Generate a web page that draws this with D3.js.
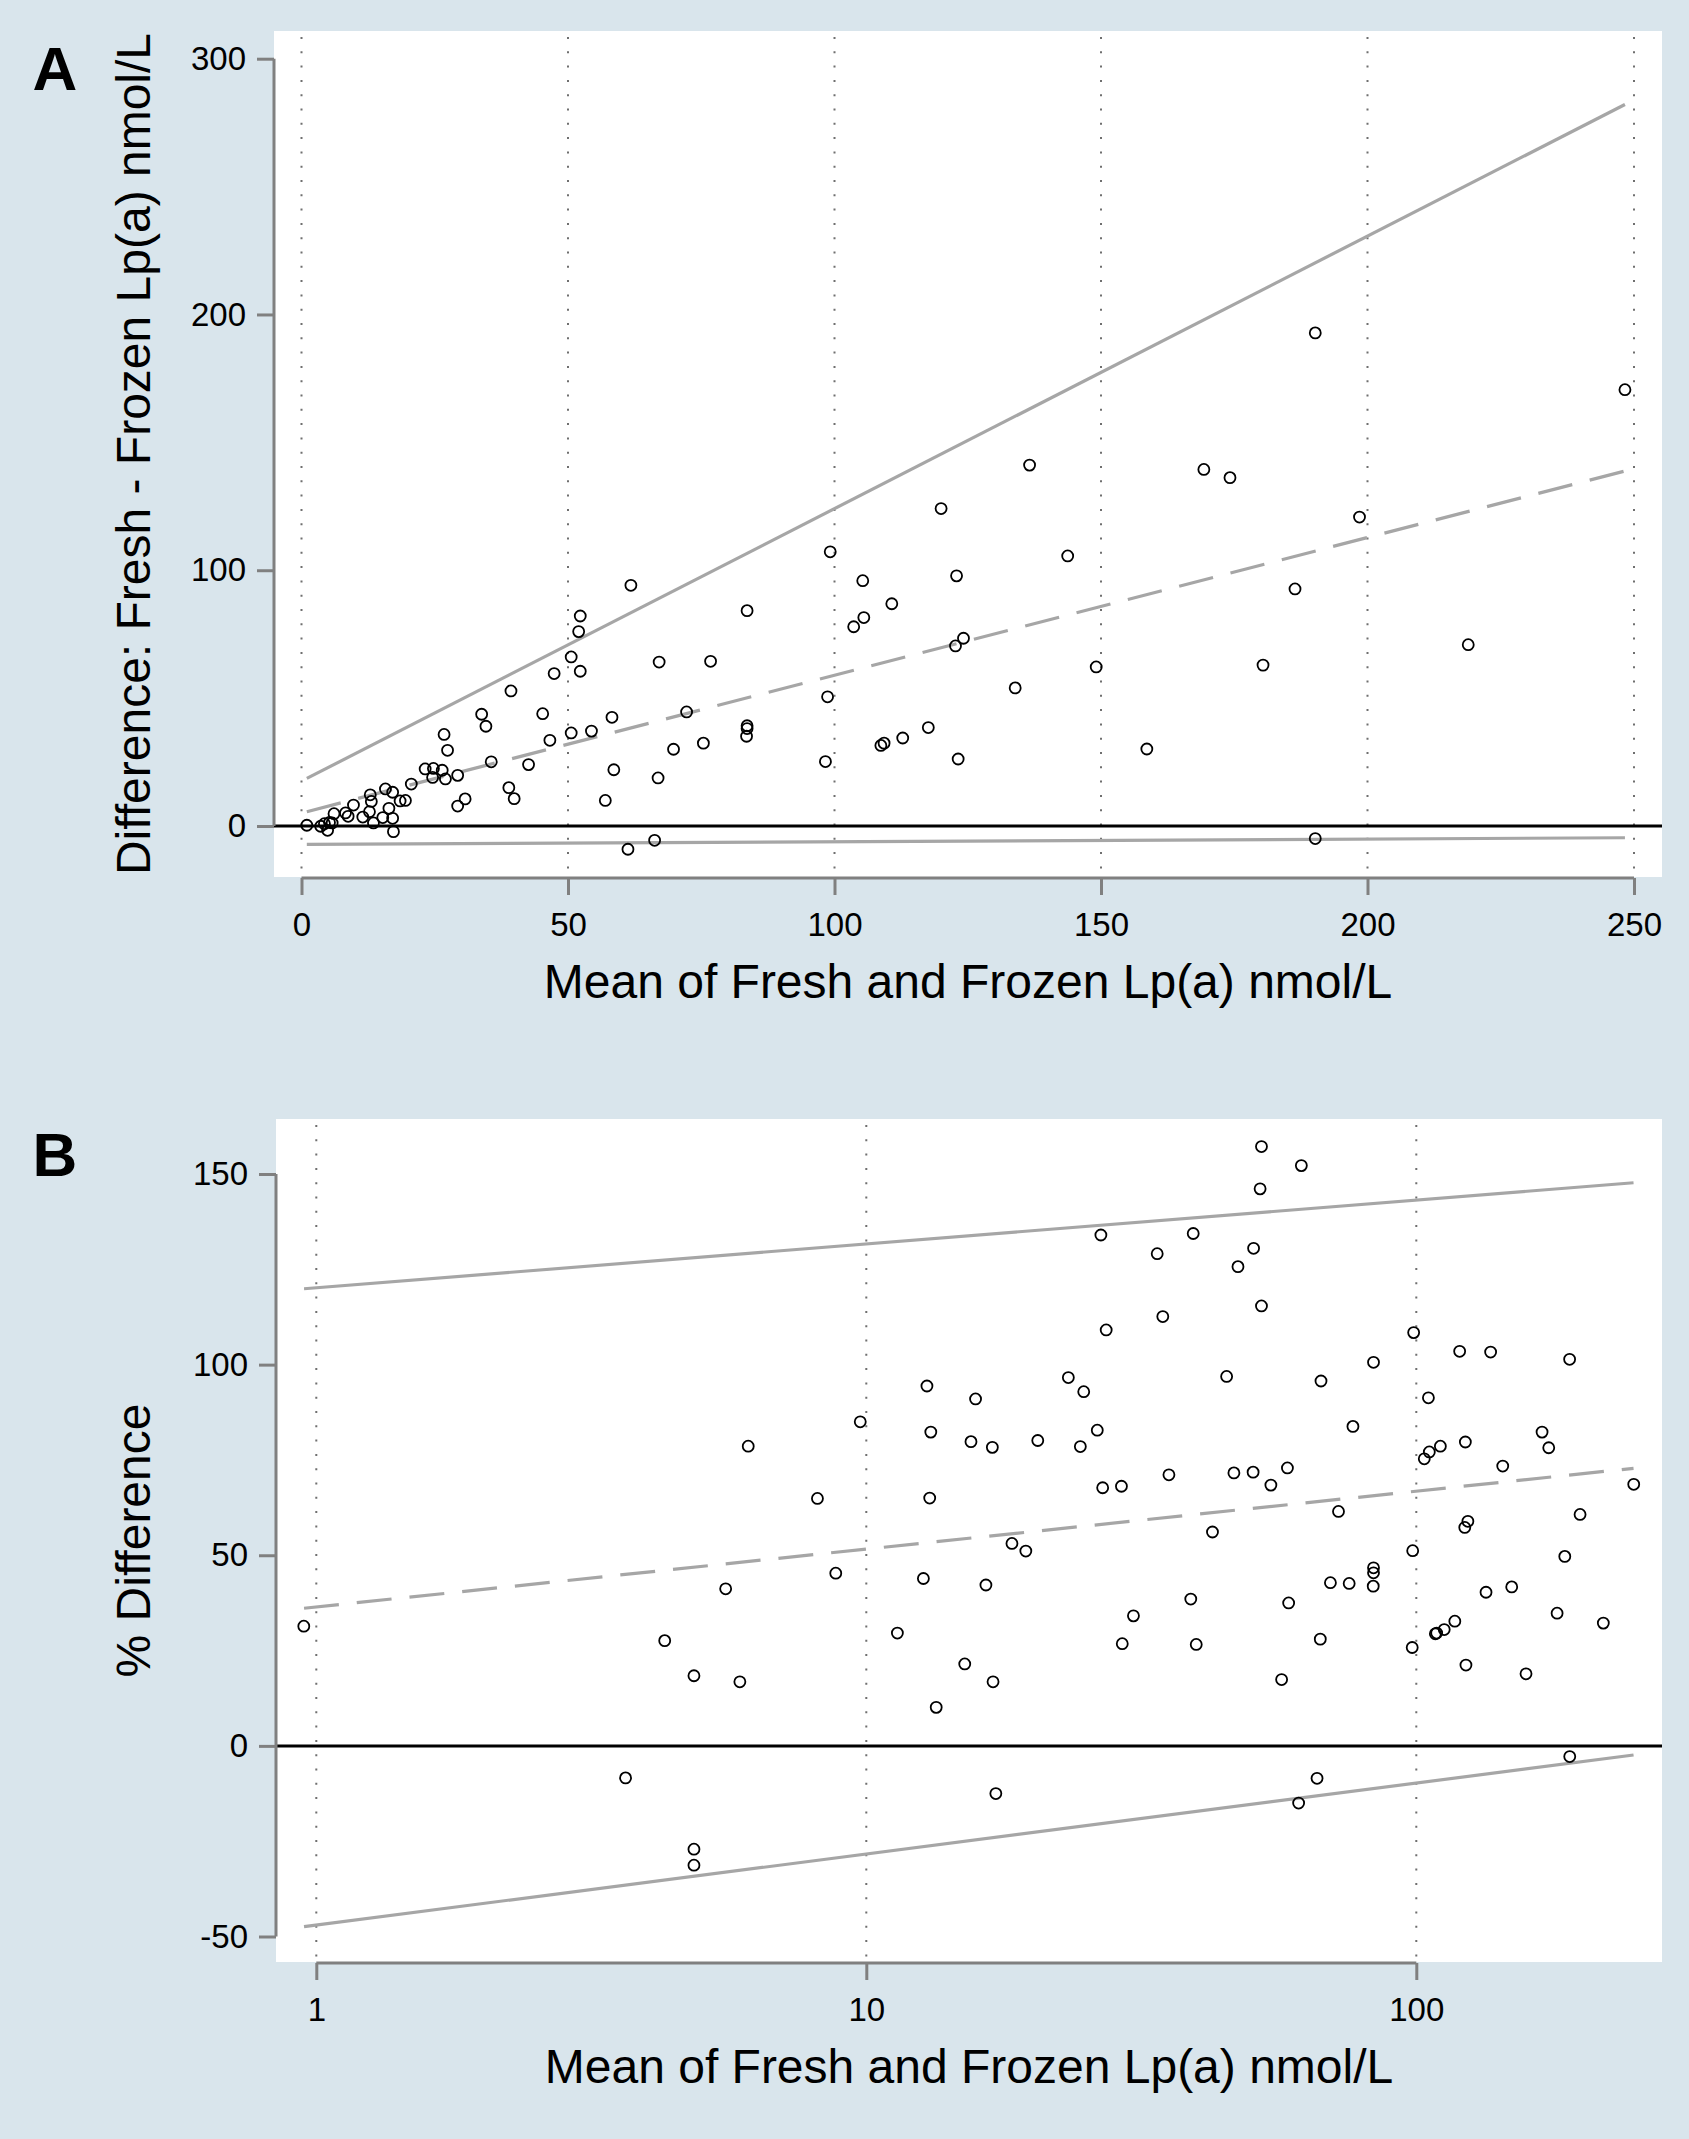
<!DOCTYPE html>
<html>
<head>
<meta charset="utf-8">
<script src="https://cdn.jsdelivr.net/npm/d3@7"></script>
<style>
	body { margin: 0; background: #d9e5ec; }
	text { font-family: "Liberation Sans", Arial, sans-serif; fill: #000; }
</style>
</head>
<body>
<svg id="chart" width="1689" height="2139"></svg>
<script>
// ---- Panel A: difference (nmol/L) against mean ----
var meanA = [1.0, 3.6, 4.3, 4.9, 5.25, 5.75, 6.1, 8.25, 8.75, 9.75, 11.5, 12.75, 12.9, 13.1, 13.5,
	15.25, 15.75, 16.4, 17.1, 17.25, 17.1, 18.5, 19.5, 20.6, 23.2, 24.75, 24.6, 26.4, 27, 26.75,
	27.4, 29.3, 29.3, 30.7, 33.8, 34.6, 35.6, 39.3, 38.9, 39.9, 42.6, 45.25, 46.6, 47.4, 50.6,
	50.6, 52, 52.3, 52.3, 54.4, 57, 58.25, 58.6, 61.25, 61.8, 66.25, 66.9, 67.1, 69.8, 72.25,
	75.4, 76.75, 83.6, 83.6, 83.6, 83.5, 99.2, 98.7, 98.3, 105.3, 105.5, 103.6, 110.75, 108.7,
	109.3, 112.8, 117.6, 120, 122.9, 122.7, 124.2, 123.2, 133.9, 136.6, 143.75, 149.1, 158.6,
	169.3, 174.2, 180.4, 186.4, 190.2, 190.2, 198.5, 218.9, 248.3];
var diffA = [0.3, -0.1, 0.9, -1.7, 1.4, 1.2, 4.8, 5.1, 3.8, 8.2, 3.5, 5.6, 12.2, 9.6, 1.2,
	3.3, 14.5, 6.9, 3.0, -2.2, 13.2, 9.8, 10.0, 16.4, 22.3, 22.5, 19.0, 21.8, 18.4, 35.8,
	29.6, 19.8, 7.8, 10.6, 43.7, 39, 25.1, 52.8, 15, 10.7, 24, 43.9, 33.5, 59.6, 66.1,
	36.4, 76, 82.1, 60.5, 37.1, 10, 42.5, 22, -9.1, 94.1, -5.6, 18.8, 64.1, 30, 44.6,
	32.4, 64.4, 84.2, 39.2, 38.1, 35.1, 107.2, 50.5, 25.2, 95.9, 81.5, 77.9, 86.9, 31.5,
	32.4, 34.4, 38.5, 124.1, 97.8, 70.4, 73.4, 26.2, 54, 141.1, 105.6, 62.2, 30.1,
	139.4, 136.2, 62.9, 92.7, 192.8, -4.9, 120.8, 70.9, 170.6];
// regression-based bias and limits of agreement, at the lowest and highest mean
var lineXA = [1.0, 248.3];
var upperA = [18.6, 282.1];
var biasA = [5.6, 138.8];
var lowerA = [-7.2, -4.6];
var xTicksA = [0, 50, 100, 150, 200, 250];
var yTicksA = [0, 100, 200, 300];

// ---- Panel B: % difference against mean (log x) ----
var meanB = [0.949, 3.65, 4.30, 4.86, 4.86, 4.86, 5.55, 5.89, 6.1,
	8.15, 8.8, 9.75, 11.39, 12.89, 13.1, 13.04, 12.7, 15.8, 15.5, 16.95, 16.5, 18.4, 19.5,
	20.5, 23.3, 24.85, 24.5, 26.3, 26.7, 27.3, 26.9, 29.1, 30.6, 29.2, 33.8, 34.6, 35.5,
	38.9, 39.3, 39.8, 42.6, 45.2, 46.6, 47.4, 50.6, 50.5, 52, 52.3, 52.3, 54.4, 58.3, 58.6, 61.8,
	15.1, 17.0, 13.4, 17.2, 56.9, 66.0, 61.1,
	67.1, 83.6, 76.7, 72.2, 69.8, 75.5, 83.6, 83.6, 83.5, 66.9, 98.9, 119.9, 136.5, 190,
	105.2, 103.4, 105.6, 110.6, 122.8, 143.6, 169.3, 174.1, 248.5, 198.5, 124.1, 122.5,
	98.5, 186.2, 133.9, 149.1, 180.3, 218.8, 117.5, 112.4, 108.9, 108.3,
	98.3, 123.1, 158.3, 190.1];
var pctB = [31.4, -8.4, 27.6, 18.4, -27.1, -31.3, 41.2, 16.8, 78.6,
	64.9, 45.3, 85.0, 29.6, 94.4, 82.3, 65.0, 43.9, 91.0, 79.8, 78.3, 42.2, 53.1, 51.1,
	80.1, 96.6, 92.9, 78.5, 82.8, 134.0, 109.1, 67.7, 68.1, 34.1, 26.8, 129.1, 112.6, 71.1,
	38.5, 134.4, 26.6, 56.1, 96.9, 71.6, 125.7, 130.5, 71.8, 146.1, 157.2, 115.4, 68.4, 72.9, 37.5, 152.2,
	21.5, 16.8, 10.1, -12.5, 17.4, -8.5, -15.0,
	95.7, 100.6, 83.8, 61.5, 42.8, 42.6, 46.7, 45.4, 41.9, 28.0, 108.4, 103.5, 103.3, 101.4,
	91.3, 75.3, 77.1, 78.6, 79.7, 73.4, 82.3, 78.2, 68.6, 60.7, 58.9, 57.3,
	51.2, 49.7, 40.3, 41.7, 34.8, 32.2, 32.7, 30.5, 29.6, 29.4,
	25.8, 21.2, 18.9, -2.8];
var lineXB = [0.95, 248.3];
var upperB = [119.9, 147.7];
var biasB = [36.1, 72.8];
var lowerB = [-47.4, -2.4];
var xTicksB = [1, 10, 100];
var yTicksB = [-50, 0, 50, 100, 150];

var svg = d3.select("#chart");
var gray = "#a6a6a6";
var axisGray = "#808080";
// plain hyphen for negatives, like the original
var fmt = d => String(d);

function drawPanel(p) {
	var g = svg.append("g");

	// white plot region
	g.append("rect")
		.attr("x", p.box[0]).attr("y", p.box[1])
		.attr("width", p.box[2] - p.box[0]).attr("height", p.box[3] - p.box[1])
		.attr("fill", "#fff");

	// dotted vertical grid at the x ticks
	g.selectAll(".grid")
		.data(p.xTicks)
		.enter()
		.append("line")
		.attr("x1", d => p.x(d)).attr("x2", d => p.x(d))
		.attr("y1", p.box[1] + 6).attr("y2", p.box[3] - 4)
		.attr("stroke", "#6f6f6f")
		.attr("stroke-width", 2)
		.attr("stroke-dasharray", "2 12.3");

	// zero reference line
	g.append("line")
		.attr("x1", p.box[0]).attr("x2", p.box[2])
		.attr("y1", p.y(0)).attr("y2", p.y(0))
		.attr("stroke", "#000")
		.attr("stroke-width", 3);

	// bias and limits of agreement
	var line = d3.line().x(d => p.x(d[0])).y(d => p.y(d[1]));
	[[p.upper, null], [p.lower, null], [p.bias, "35 18"]].forEach(function(l) {
		g.append("path")
			.datum(d3.zip(p.lineX, l[0]))
			.attr("d", line)
			.attr("fill", "none")
			.attr("stroke", gray)
			.attr("stroke-width", 3.2)
			.attr("stroke-dasharray", l[1]);
	});

	// hollow circles for each sample
	g.selectAll(".pt")
		.data(d3.zip(p.xs, p.ys))
		.enter()
		.append("circle")
		.attr("cx", d => p.x(d[0]))
		.attr("cy", d => p.y(d[1]))
		.attr("r", 5.5)
		.attr("fill", "none")
		.attr("stroke", "#000")
		.attr("stroke-width", 1.8);

	// x axis
	var xAxis = g.append("g")
		.attr("transform", `translate(0, ${p.box[3] + 1})`)
		.call(d3.axisBottom(p.x).tickValues(p.xTicks).tickFormat(fmt)
			.tickSize(17).tickPadding(18));
	xAxis.select(".domain").remove();
	xAxis.append("line")
		.attr("x1", p.x(p.xTicks[0])).attr("x2", p.x(p.xTicks[p.xTicks.length - 1]))
		.attr("stroke", axisGray).attr("stroke-width", 3);
	xAxis.selectAll(".tick line").attr("stroke", axisGray).attr("stroke-width", 3);
	xAxis.selectAll("text").attr("font-size", 33).attr("fill", "#000");

	// y axis
	var yAxis = g.append("g")
		.attr("transform", `translate(${p.box[0]}, 0)`)
		.call(d3.axisLeft(p.y).tickValues(p.yTicks).tickFormat(fmt)
			.tickSize(17).tickPadding(11));
	yAxis.select(".domain").remove();
	yAxis.append("line")
		.attr("y1", p.y(p.yTicks[0])).attr("y2", p.y(p.yTicks[p.yTicks.length - 1]))
		.attr("stroke", axisGray).attr("stroke-width", 3);
	yAxis.selectAll(".tick line").attr("stroke", axisGray).attr("stroke-width", 3);
	yAxis.selectAll("text").attr("font-size", 33).attr("fill", "#000");

	// titles
	g.append("text")
		.attr("x", (p.box[0] + p.box[2]) / 2)
		.attr("y", p.box[3] + 121)
		.attr("text-anchor", "middle")
		.attr("font-size", 48)
		.text("Mean of Fresh and Frozen Lp(a) nmol/L");

	g.append("text")
		.attr("transform", `translate(150, ${(p.box[1] + p.box[3]) / 2}) rotate(-90)`)
		.attr("text-anchor", "middle")
		.attr("font-size", 48)
		.text(p.yTitle);

	g.append("text")
		.attr("x", 55).attr("y", p.box[1] + p.letterDy)
		.attr("text-anchor", "middle")
		.attr("font-size", 62)
		.attr("font-weight", "bold")
		.text(p.letter);
}

drawPanel({
	letter: "A", letterDy: 59,
	box: [274, 31, 1662, 877],
	x: d3.scaleLinear().domain([0, 250]).range([301.5, 1634]),
	y: d3.scaleLinear().domain([0, 300]).range([826, 58.7]),
	xTicks: xTicksA, yTicks: yTicksA,
	xs: meanA, ys: diffA,
	lineX: lineXA, upper: upperA, bias: biasA, lower: lowerA,
	yTitle: "Difference: Fresh - Frozen Lp(a) nmol/L"
});

drawPanel({
	letter: "B", letterDy: 57,
	box: [276, 1119, 1662, 1962],
	x: d3.scaleLog().domain([1, 100]).range([316.3, 1416.3]),
	y: d3.scaleLinear().domain([-50, 150]).range([1936.5, 1174]),
	xTicks: xTicksB, yTicks: yTicksB,
	xs: meanB, ys: pctB,
	lineX: lineXB, upper: upperB, bias: biasB, lower: lowerB,
	yTitle: "% Difference"
});
</script>
</body>
</html>
